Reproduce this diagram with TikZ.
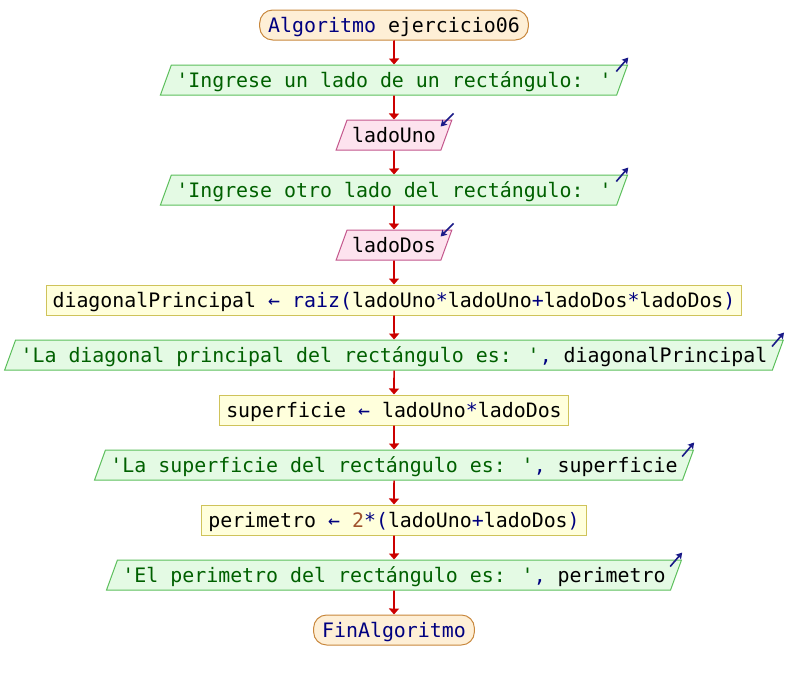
\documentclass[tikz,border=0pt]{standalone}
\usepackage{fontspec}
\usetikzlibrary{shapes.geometric,arrows.meta}
\newfontfamily\codefont{DejaVu Sans Mono}
\definecolor{flowred}{HTML}{CC0000}
\definecolor{kwnavy}{HTML}{000080}
\definecolor{iconnavy}{HTML}{1A1A88}
\definecolor{strgreen}{HTML}{006000}
\definecolor{numbrown}{HTML}{A0522D}
\definecolor{outfill}{HTML}{E4FAE4}
\definecolor{outline}{HTML}{5CBF5C}
\definecolor{infill}{HTML}{FDE3EE}
\definecolor{inline}{HTML}{C3568C}
\definecolor{asfill}{HTML}{FFFFDC}
\definecolor{asline}{HTML}{CFC35A}
\definecolor{pillfill}{HTML}{FEEFD6}
\definecolor{pillline}{HTML}{C8873C}
\newcommand{\kw}[1]{\textcolor{kwnavy}{#1}}
\newcommand{\str}[1]{\textcolor{strgreen}{#1}}
\newcommand{\num}[1]{\textcolor{numbrown}{#1}}
\tikzset{
  codetext/.style={font=\codefont\fontsize{19.9pt}{24pt}\selectfont,
    text height=14.5pt, text depth=0pt, text=black},
  pill/.style={codetext, rectangle, rounded corners=13pt, draw=pillline,
    fill=pillfill, line width=1pt, inner xsep=8.5pt, inner ysep=0pt,
    minimum height=30pt},
  assign/.style={codetext, rectangle, draw=asline, fill=asfill,
    line width=1pt, inner xsep=6.5pt, inner ysep=0pt, minimum height=30pt},
  slanted/.style={codetext, trapezium, trapezium left angle=70,
    trapezium right angle=110, line width=1pt, inner xsep=5pt,
    inner ysep=7.75pt},
  outbox/.style={slanted, draw=outline, fill=outfill},
  inbox/.style={slanted, draw=inline, fill=infill},
  flow/.style={draw=flowred, line width=1.6pt,
    -{Triangle[length=6pt,width=10pt]}},
  icon/.style={draw=iconnavy, line width=1.6pt,
    -{Stealth[length=6pt,width=7pt,inset=1pt]}}
}
\newcommand{\outicon}[1]{%
  \draw[icon] ([xshift=-12pt,yshift=-7pt]#1.top right corner)
    -- ([yshift=7pt]#1.top right corner);}
\newcommand{\inicon}[1]{%
  \draw[icon] ([xshift=1pt,yshift=6pt]#1.top right corner)
    -- ([xshift=-12pt,yshift=-7pt]#1.top right corner);}
\begin{document}
\begin{tikzpicture}[x=1pt,y=-1pt]
\useasboundingbox (0,0) rectangle (788,680);

\node[pill]   (start) at (394,25)  {\kw{Algoritmo} ejercicio06};
\node[outbox] (o1)    at (394,80)  {\str{'Ingrese un lado de un rectángulo: '}};
\node[inbox]  (i1)    at (394,135) {ladoUno};
\node[outbox] (o2)    at (394,190) {\str{'Ingrese otro lado del rectángulo: '}};
\node[inbox]  (i2)    at (394,245) {ladoDos};
\node[assign] (a1)    at (394,300) {diagonalPrincipal \kw{←} \kw{raiz(}ladoUno\kw{*}ladoUno\kw{+}ladoDos\kw{*}ladoDos\kw{)}};
\node[outbox] (o3)    at (394,355) {\str{'La diagonal principal del rectángulo es: '}\kw{,} diagonalPrincipal};
\node[assign] (a2)    at (394,410) {superficie \kw{←} ladoUno\kw{*}ladoDos};
\node[outbox] (o4)    at (394,465) {\str{'La superficie del rectángulo es: '}\kw{,} superficie};
\node[assign] (a3)    at (394,520) {perimetro \kw{←} \num{2}\kw{*(}ladoUno\kw{+}ladoDos\kw{)}};
\node[outbox] (o5)    at (394,575) {\str{'El perimetro del rectángulo es: '}\kw{,} perimetro};
\node[pill]   (stop)  at (394,630) {\kw{FinAlgoritmo}};

% flow connectors
\draw[flow] (start.south) -- (o1.north);
\draw[flow] (o1.south) -- (i1.north);
\draw[flow] (i1.south) -- (o2.north);
\draw[flow] (o2.south) -- (i2.north);
\draw[flow] (i2.south) -- (a1.north);
\draw[flow] (a1.south) -- (o3.north);
\draw[flow] (o3.south) -- (a2.north);
\draw[flow] (a2.south) -- (o4.north);
\draw[flow] (o4.south) -- (a3.north);
\draw[flow] (a3.south) -- (o5.north);
\draw[flow] (o5.south) -- (stop.north);

% read / write markers
\outicon{o1}
\inicon{i1}
\outicon{o2}
\inicon{i2}
\outicon{o3}
\outicon{o4}
\outicon{o5}
\end{tikzpicture}
\end{document}
